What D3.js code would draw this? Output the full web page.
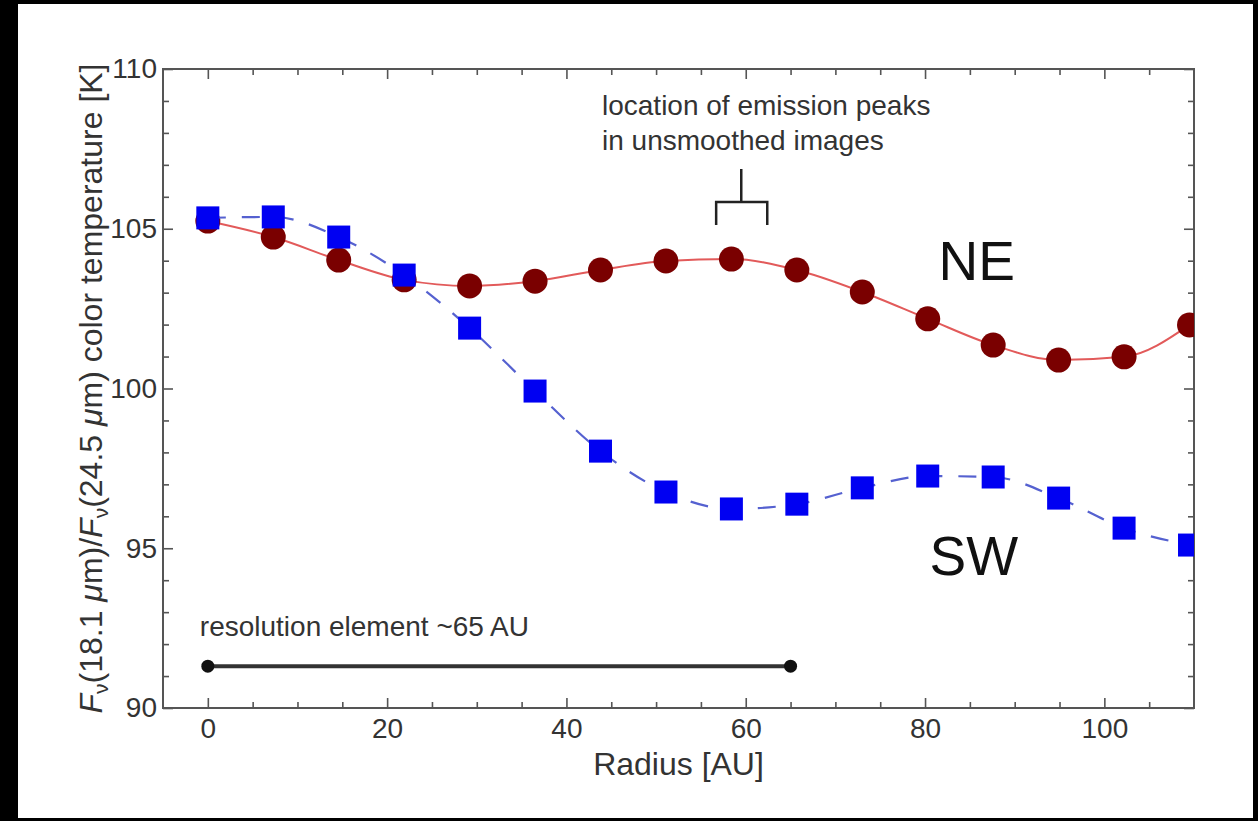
<!DOCTYPE html>
<html>
<head>
<meta charset="utf-8">
<script src="https://cdn.jsdelivr.net/npm/d3@7"></script>
<style>
  html, body { margin: 0; padding: 0; background: #000; }
  svg { display: block; }
  text { font-family: "Liberation Sans", Arial, Helvetica, sans-serif; }
</style>
</head>
<body>
<svg id="chart" width="1258" height="821"></svg>
<script>
// ---- data ----
const radius = [0, 7.3, 14.6, 21.9, 29.2, 36.5, 43.8, 51.1, 58.4, 65.7, 73.0, 80.3, 87.6, 94.9, 102.2, 109.5];
const tempNE = [105.24, 104.74, 104.02, 103.40, 103.21, 103.36, 103.71, 103.99, 104.05, 103.71, 103.02, 102.18, 101.36, 100.89, 100.99, 101.99];
const tempSW = [105.34, 105.37, 104.74, 103.55, 101.89, 99.92, 98.04, 96.76, 96.23, 96.38, 96.89, 97.26, 97.23, 96.57, 95.63, 95.10];
const xMajorTicks = [0, 20, 40, 60, 80, 100];
const xMinorTicks = [5, 10, 15, 25, 30, 35, 45, 50, 55, 65, 70, 75, 85, 90, 95, 105];
const yMajorTicks = [90, 95, 100, 105, 110];
const yMinorTicks = [91, 92, 93, 94, 96, 97, 98, 99, 101, 102, 103, 104, 106, 107, 108, 109];
const resolutionSpan = [0, 65];          // AU
const resolutionLevel = 91.31;           // K
const peakBracket = { left: 56.7, right: 62.4, center: 59.5, top: 106.87, bar: 105.84, bottom: 105.12 };

// ---- layout ----
const svg = d3.select("#chart");
const plot = { left: 163, right: 1194, top: 69, bottom: 708 };
const x = d3.scaleLinear([-5, 110], [plot.left, plot.right]);
const y = d3.scaleLinear([90, 110], [plot.bottom, plot.top]);

// white panel
svg.append("rect").attr("x", 18).attr("y", 4).attr("width", 1235).attr("height", 814).attr("fill", "#ffffff");

// clip
svg.append("clipPath").attr("id", "clip").append("rect")
  .attr("x", plot.left).attr("y", plot.top)
  .attr("width", plot.right - plot.left).attr("height", plot.bottom - plot.top);

const axisColor = "#555";
function styleAxis(g) {
  g.select(".domain").remove();
  g.selectAll(".tick line").attr("stroke", axisColor).attr("stroke-width", 1.6);
  g.selectAll(".tick text").attr("fill", "#333").attr("font-size", 28);
}

// bottom axis major
svg.append("g").attr("transform", `translate(0,${plot.bottom})`)
  .call(d3.axisBottom(x).tickValues(xMajorTicks).tickSizeInner(-10).tickSizeOuter(0).tickPadding(10).tickFormat(d3.format("d")))
  .call(styleAxis);
svg.append("g").attr("transform", `translate(0,${plot.bottom})`)
  .call(d3.axisBottom(x).tickValues(xMinorTicks).tickSizeInner(-6).tickSizeOuter(0).tickFormat(""))
  .call(styleAxis);
// top axis
svg.append("g").attr("transform", `translate(0,${plot.top})`)
  .call(d3.axisTop(x).tickValues(xMajorTicks).tickSizeInner(-10).tickSizeOuter(0).tickFormat(""))
  .call(styleAxis);
svg.append("g").attr("transform", `translate(0,${plot.top})`)
  .call(d3.axisTop(x).tickValues(xMinorTicks).tickSizeInner(-6).tickSizeOuter(0).tickFormat(""))
  .call(styleAxis);
// left axis
svg.append("g").attr("transform", `translate(${plot.left},0)`)
  .call(d3.axisLeft(y).tickValues(yMajorTicks).tickSizeInner(-10).tickSizeOuter(0).tickPadding(6).tickFormat(d3.format("d")))
  .call(styleAxis);
svg.append("g").attr("transform", `translate(${plot.left},0)`)
  .call(d3.axisLeft(y).tickValues(yMinorTicks).tickSizeInner(-6).tickSizeOuter(0).tickFormat(""))
  .call(styleAxis);
// right axis
svg.append("g").attr("transform", `translate(${plot.right},0)`)
  .call(d3.axisRight(y).tickValues(yMajorTicks).tickSizeInner(-10).tickSizeOuter(0).tickFormat(""))
  .call(styleAxis);
svg.append("g").attr("transform", `translate(${plot.right},0)`)
  .call(d3.axisRight(y).tickValues(yMinorTicks).tickSizeInner(-6).tickSizeOuter(0).tickFormat(""))
  .call(styleAxis);

// frame
svg.append("rect").attr("x", plot.left).attr("y", plot.top)
  .attr("width", plot.right - plot.left).attr("height", plot.bottom - plot.top)
  .attr("fill", "none").attr("stroke", axisColor).attr("stroke-width", 2);

// axis titles
svg.append("text").attr("x", (plot.left + plot.right) / 2).attr("y", 775)
  .attr("text-anchor", "middle").attr("font-size", 32).attr("fill", "#333").text("Radius [AU]");

const yt = svg.append("text")
  .attr("transform", `translate(102,${(plot.top + plot.bottom) / 2}) rotate(-90)`)
  .attr("text-anchor", "middle").attr("font-size", 32).attr("fill", "#333");
function addFnu(t) {
  t.append("tspan").attr("font-style", "italic").text("F");
  t.append("tspan").attr("font-size", 21).attr("dy", 6).text("\u03BD");
  t.append("tspan").attr("dy", -6).text("(");
}
addFnu(yt);
yt.append("tspan").text("18.1 ");
yt.append("tspan").attr("font-style", "italic").text("\u03BC");
yt.append("tspan").text("m)/");
addFnu(yt);
yt.append("tspan").text("24.5 ");
yt.append("tspan").attr("font-style", "italic").text("\u03BC");
yt.append("tspan").text("m) color temperature [K]");

// data layer
const dataG = svg.append("g").attr("clip-path", "url(#clip)");
const ptsNE = radius.map((r, i) => [r, tempNE[i]]);
const ptsSW = radius.map((r, i) => [r, tempSW[i]]);
const line = d3.line().x(d => x(d[0])).y(d => y(d[1])).curve(d3.curveMonotoneX);

dataG.append("path").attr("d", line(ptsNE)).attr("fill", "none")
  .attr("stroke", "#e25a5a").attr("stroke-width", 2);
dataG.selectAll("circle.ne").data(ptsNE).join("circle").attr("class", "ne")
  .attr("cx", d => x(d[0])).attr("cy", d => y(d[1])).attr("r", 12.5).attr("fill", "#7a0000");

dataG.append("path").attr("d", line(ptsSW)).attr("fill", "none")
  .attr("stroke", "#5561d0").attr("stroke-width", 2.2).attr("stroke-dasharray", "18,16");
const sq = 23;
dataG.selectAll("rect.sw").data(ptsSW).join("rect").attr("class", "sw")
  .attr("x", d => x(d[0]) - sq / 2).attr("y", d => y(d[1]) - sq / 2)
  .attr("width", sq).attr("height", sq).attr("fill", "#0000f2");

// NE / SW labels
svg.append("text").attr("x", x(81.5)).attr("y", y(103.4)).attr("font-size", 55).attr("fill", "#111").text("NE");
svg.append("text").attr("x", x(80.5)).attr("y", y(94.16)).attr("font-size", 55).attr("fill", "#111").text("SW");

// resolution element
svg.append("line").attr("x1", x(resolutionSpan[0])).attr("x2", x(resolutionSpan[1]))
  .attr("y1", y(resolutionLevel)).attr("y2", y(resolutionLevel))
  .attr("stroke", "#333").attr("stroke-width", 4);
svg.selectAll("circle.res").data(resolutionSpan).join("circle").attr("class", "res")
  .attr("cx", d => x(d)).attr("cy", y(resolutionLevel)).attr("r", 6.5).attr("fill", "#111");
svg.append("text").attr("x", x(resolutionSpan[0]) - 8).attr("y", y(92.25))
  .attr("font-size", 28).attr("fill", "#333").text("resolution element ~65 AU");

// emission peak annotation
const pb = peakBracket;
svg.append("path")
  .attr("d", `M${x(pb.center)},${y(pb.top)}V${y(pb.bar)}M${x(pb.left)},${y(pb.bottom)}V${y(pb.bar)}H${x(pb.right)}V${y(pb.bottom)}`)
  .attr("fill", "none").attr("stroke", "#222").attr("stroke-width", 2.5);
const ann = svg.append("text").attr("font-size", 28).attr("fill", "#333");
ann.append("tspan").attr("x", 602).attr("y", 115).text("location of emission peaks");
ann.append("tspan").attr("x", 602).attr("y", 150).text("in unsmoothed images");
</script>
</body>
</html>
